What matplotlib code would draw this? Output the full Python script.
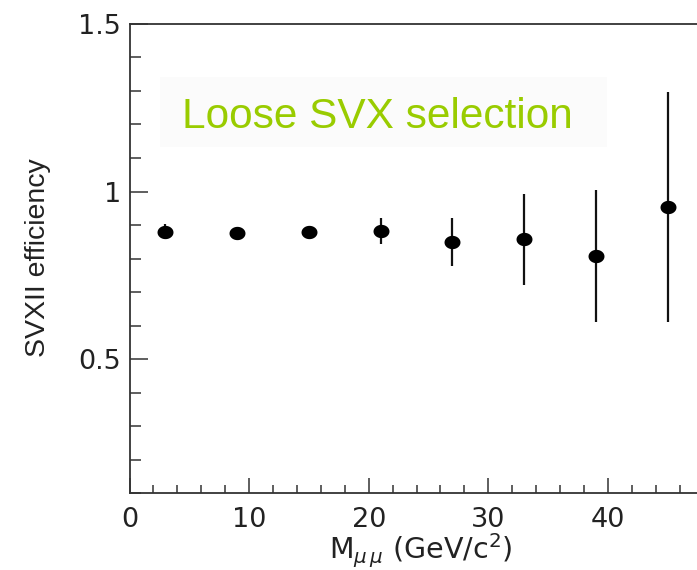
import numpy as np
import matplotlib
matplotlib.use("Agg")
import matplotlib.pyplot as plt
from matplotlib.path import Path
from matplotlib.ticker import MultipleLocator, FixedLocator, FixedFormatter
from matplotlib.patches import Rectangle

# ---- data ----
mass = [3, 9, 15, 21, 27, 33, 39, 45]
efficiency = [0.880, 0.877, 0.879, 0.882, 0.850, 0.857, 0.807, 0.953]
eff_err = [0.023, 0.008, 0.015, 0.039, 0.071, 0.135, 0.196, 0.344]
ytick_vals = [0.5, 1.0, 1.5]
ytick_labels = ["0.5", "1", "1.5"]
xtick_vals = [0, 10, 20, 30, 40]
xtick_labels = ["0", "10", "20", "30", "40"]

W, H = 697, 570
fig = plt.figure(figsize=(W / 100, H / 100), dpi=100)

def px(x, y):
    return x / W, 1 - y / H

# axes placement (extends beyond right edge like the cropped original)
left, right, top, bottom = 129.5, 727.5, 24, 493
ax = fig.add_axes([left / W, 1 - bottom / H, (right - left) / W, (bottom - top) / H])
ax.set_xlim(0, 50)
ax.set_ylim(0.1, 1.5)

# elliptical marker (original image is horizontally stretched)
t = np.linspace(0, 2 * np.pi, 60)
ell = Path(np.column_stack([1.2 * np.cos(t), np.sin(t)]), closed=True)

ax.errorbar(mass, efficiency, yerr=eff_err, fmt='none', ecolor='#111111',
            elinewidth=1.6, capsize=0, zorder=2)
ax.plot(mass, efficiency, linestyle='none', marker=ell, markersize=11.5,
        color='#000000', markeredgewidth=0, zorder=3)

for s in ['right', 'top']:
    ax.spines[s].set_visible(s == 'top')
for s in ['left', 'bottom', 'top']:
    ax.spines[s].set_color('#333333')
    ax.spines[s].set_linewidth(1.3)

ax.yaxis.set_major_locator(FixedLocator(ytick_vals))
ax.yaxis.set_major_formatter(FixedFormatter(ytick_labels))
ax.yaxis.set_minor_locator(MultipleLocator(0.1))
ax.xaxis.set_major_locator(FixedLocator(xtick_vals))
ax.xaxis.set_major_formatter(FixedFormatter(xtick_labels))
ax.xaxis.set_minor_locator(MultipleLocator(2))

ax.tick_params(axis='y', which='major', direction='in', length=13, width=1.1,
               color='#333333', labelsize=19.5, labelcolor='#222222', pad=6,
               right=False)
ax.tick_params(axis='y', which='minor', direction='in', length=8, width=1.1,
               color='#333333', right=False)
ax.tick_params(axis='x', which='major', direction='in', length=11, width=1.1,
               color='#333333', labelsize=19.5, labelcolor='#222222', pad=10,
               top=False)
ax.tick_params(axis='x', which='minor', direction='in', length=5.5, width=1.1,
               color='#333333', top=False)
for lab in ax.get_xticklabels() + ax.get_yticklabels():
    lab.set_family('DejaVu Sans')

# axis labels
fig.text(*px(45, 257.5), "SVXII efficiency", rotation=90, rotation_mode='anchor',
         ha='center', va='baseline', fontsize=20.5, family='Liberation Sans',
         color='#222222')
fig.text(*px(421, 559), r"M$_{\mu\,\mu}$ (GeV/c$^{2}$)", ha='center', va='baseline',
         fontsize=20.5, family='DejaVu Sans', color='#222222')

# overlay annotation
fig.patches.append(Rectangle(px(160, 147), (607 - 160) / W, (147 - 77) / H,
                             transform=fig.transFigure, facecolor='#fbfbfb',
                             edgecolor='none', zorder=1))
fig.text(*px(377, 128), "Loose SVX selection", ha='center', va='baseline',
         fontsize=30.5, family='Liberation Sans', color='#99cc00', zorder=5)

fig.savefig("out.png", dpi=100)
